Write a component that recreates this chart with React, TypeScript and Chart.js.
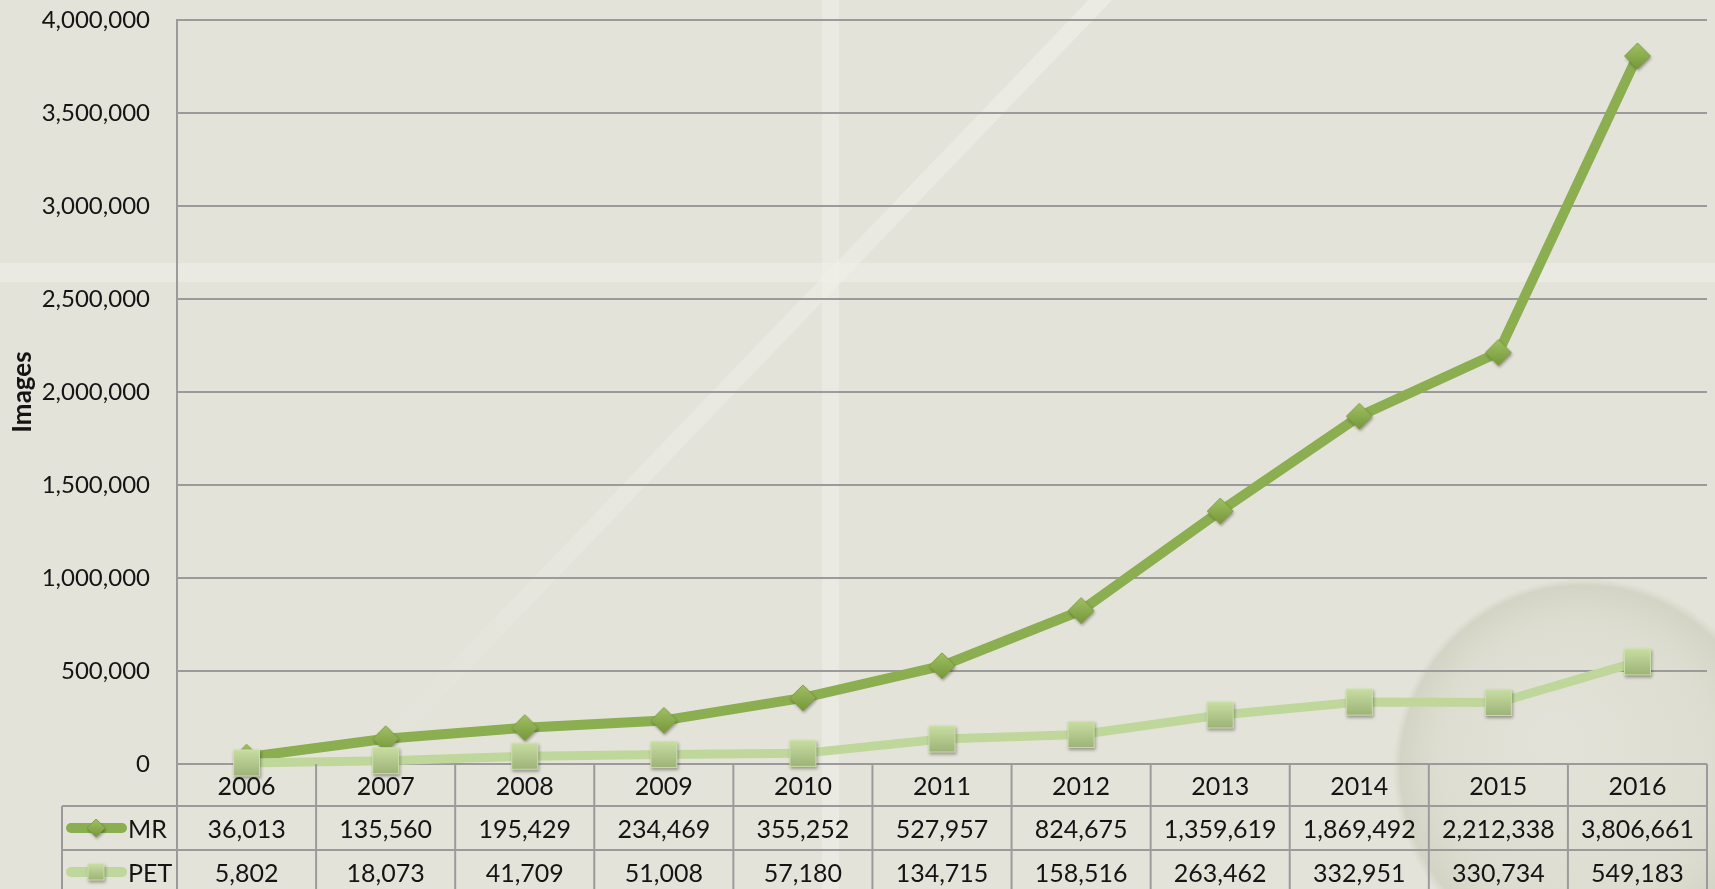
import React, { useEffect, useRef } from 'react';
import { Chart, registerables } from 'chart.js';

Chart.register(...registerables);

// ---------- data ----------
const years = ['2006', '2007', '2008', '2009', '2010', '2011', '2012', '2013', '2014', '2015', '2016'];
const mrImages = [36013, 135560, 195429, 234469, 355252, 527957, 824675, 1359619, 1869492, 2212338, 3806661];
const petImages = [5802, 18073, 41709, 51008, 57180, 134715, 158516, 263462, 332951, 330734, 549183];
const seriesNames = ['MR', 'PET'];
const yMin = 0;
const yMax = 4000000;
const yStep = 500000;
const axisTitle = 'Images';

// ---------- styles ----------
const FONT = 'Lato, "Open Sans", sans-serif';
const MR_COLOR = '#8aae50';
const PET_COLOR = '#c0d79c';
const GRID = '#9b9b9b';
const TEXT = '#141414';

const fmt = (v: number) => Number(v).toLocaleString('en-US');

function makeDiamond(r: number) {
  const pad = 6;
  const s = Math.ceil(2 * r + pad * 2);
  const c = document.createElement('canvas');
  c.width = s;
  c.height = s;
  const ctx = c.getContext('2d')!;
  const cx = s / 2;
  ctx.shadowColor = 'rgba(0,0,0,0.35)';
  ctx.shadowBlur = 3;
  ctx.shadowOffsetX = 1;
  ctx.shadowOffsetY = 2;
  const g = ctx.createLinearGradient(0, cx - r, 0, cx + r);
  g.addColorStop(0, '#9fc163');
  g.addColorStop(1, '#77973a');
  ctx.beginPath();
  ctx.moveTo(cx, cx - r);
  ctx.lineTo(cx + r, cx);
  ctx.lineTo(cx, cx + r);
  ctx.lineTo(cx - r, cx);
  ctx.closePath();
  ctx.fillStyle = g;
  ctx.fill();
  ctx.shadowColor = 'transparent';
  ctx.strokeStyle = 'rgba(125,155,65,0.9)';
  ctx.lineWidth = 1;
  ctx.stroke();
  return c;
}

function makeSquare(side: number) {
  const pad = 6;
  const s = Math.ceil(side + pad * 2);
  const c = document.createElement('canvas');
  c.width = s;
  c.height = s;
  const ctx = c.getContext('2d')!;
  const x0 = (s - side) / 2;
  ctx.shadowColor = 'rgba(0,0,0,0.35)';
  ctx.shadowBlur = 3;
  ctx.shadowOffsetX = 1;
  ctx.shadowOffsetY = 2;
  const g = ctx.createLinearGradient(0, x0, 0, x0 + side);
  g.addColorStop(0, '#c8dea2');
  g.addColorStop(1, '#9cb277');
  ctx.fillStyle = g;
  ctx.fillRect(x0, x0, side, side);
  ctx.shadowColor = 'transparent';
  ctx.strokeStyle = 'rgba(205,225,170,0.9)';
  ctx.lineWidth = 1;
  ctx.strokeRect(x0 + 0.5, x0 + 0.5, side - 1, side - 1);
  return c;
}

const backgroundPlugin = {
  id: 'bgPlugin',
  beforeDraw(chart: any) {
    const { ctx, width, height } = chart;
    ctx.save();
    ctx.fillStyle = '#e4e3da';
    ctx.fillRect(0, 0, width, height);

    // faint globe
    const gx = 1585, gy = 770, gr = 192;
    const rg = ctx.createRadialGradient(gx - 30, gy - 30, 10, gx, gy, gr);
    rg.addColorStop(0, 'rgba(220,221,205,0.14)');
    rg.addColorStop(0.7, 'rgba(195,198,175,0.22)');
    rg.addColorStop(0.95, 'rgba(175,178,150,0.30)');
    rg.addColorStop(1, 'rgba(175,178,150,0.0)');
    ctx.fillStyle = rg;
    ctx.beginPath();
    ctx.arc(gx, gy, gr, 0, Math.PI * 2);
    ctx.fill();

    // light bands
    ctx.fillStyle = 'rgba(240,239,232,0.6)';
    ctx.fillRect(822, 0, 17, height);
    ctx.fillRect(0, 263, width, 19);
    // diagonal band
    const lg = ctx.createLinearGradient(1100, 0, 370, 760);
    lg.addColorStop(0, 'rgba(240,239,232,0.65)');
    lg.addColorStop(0.6, 'rgba(240,239,232,0.45)');
    lg.addColorStop(1, 'rgba(240,239,232,0)');
    ctx.strokeStyle = lg;
    ctx.lineWidth = 17;
    ctx.beginPath();
    ctx.moveTo(1110, -10);
    ctx.lineTo(370, 760);
    ctx.stroke();
    ctx.restore();
  },
};

function makeTablePlugin(legendMarks: HTMLCanvasElement[]) {
  return {
    id: 'dataTable',
    afterDraw(chart: any) {
      const ctx = chart.ctx;
      const xs = chart.scales.x;
      const area = chart.chartArea;
      const H = chart.height;
      const top = area.bottom;
      const r1 = top + 42;
      const r2 = r1 + 44;
      const r3 = r2 + 44;
      const left = 62;
      const n = years.length;
      ctx.save();
      ctx.strokeStyle = GRID;
      ctx.lineWidth = 2;
      const line = (x1: number, y1: number, x2: number, y2: number) => {
        ctx.beginPath();
        ctx.moveTo(x1, y1);
        ctx.lineTo(x2, y2);
        ctx.stroke();
      };
      for (let i = 0; i <= n; i++) {
        const x = i === 0 ? area.left : i === n ? area.right : (xs.getPixelForValue(i - 1) + xs.getPixelForValue(i)) / 2;
        line(x, top, x, H);
      }
      line(left, r1, left, H);
      line(left, r1, area.right, r1);
      line(left, r2, area.right, r2);

      ctx.font = `25px ${FONT}`;
      ctx.fillStyle = TEXT;
      ctx.textAlign = 'center';
      ctx.textBaseline = 'middle';
      const rows = [mrImages, petImages];
      const rowY = [(r1 + r2) / 2 + 2, (r2 + r3) / 2 + 2];
      years.forEach((y, i) => ctx.fillText(y, xs.getPixelForValue(i), (top + r1) / 2 + 2));
      rows.forEach((vals, k) => {
        vals.forEach((v, i) => ctx.fillText(fmt(v), xs.getPixelForValue(i), rowY[k]));
      });

      // legend keys
      const colors = [MR_COLOR, PET_COLOR];
      seriesNames.forEach((name, k) => {
        const y = rowY[k] - 2;
        ctx.strokeStyle = colors[k];
        ctx.lineWidth = 10;
        ctx.lineCap = 'round';
        line(71, y, 122, y);
        const m = legendMarks[k];
        ctx.drawImage(m, 96 - m.width / 2, y - m.height / 2);
        ctx.textAlign = 'left';
        ctx.fillStyle = TEXT;
        ctx.fillText(name, 128, rowY[k]);
      });
      ctx.restore();
    },
  };
}

export default function App() {
  const ref = useRef<HTMLCanvasElement>(null);
  useEffect(() => {
    if (!ref.current) return;
    const diamond = makeDiamond(13);
    const square = makeSquare(27);
    const legendDiamond = makeDiamond(9);
    const legendSquare = makeSquare(17);
    const chart = new Chart(ref.current, {
      type: 'line',
      data: {
        labels: years,
        datasets: [
          {
            label: seriesNames[0],
            data: mrImages,
            borderColor: MR_COLOR,
            borderWidth: 10,
            pointStyle: diamond as any,
            pointRadius: 12,
            order: 1,
            clip: false as any,
            borderJoinStyle: 'round',
            tension: 0,
          },
          {
            label: seriesNames[1],
            data: petImages,
            borderColor: PET_COLOR,
            borderWidth: 9,
            pointStyle: square as any,
            pointRadius: 12,
            order: 0,
            clip: false as any,
            borderJoinStyle: 'round',
            tension: 0,
          },
        ],
      },
      options: {
        animation: false,
        responsive: false,
        devicePixelRatio: 1,
        layout: { autoPadding: false, padding: { top: 20, right: 8, bottom: 0, left: 0 } },
        plugins: { legend: { display: false }, tooltip: { enabled: false } },
        scales: {
          x: {
            type: 'category',
            offset: true,
            grid: { display: false },
            border: { display: false },
            ticks: { display: false },
            afterFit: (s: any) => {
              s.height = 125;
              s.paddingLeft = 0;
              s.paddingRight = 0;
            },
          },
          y: {
            min: yMin,
            max: yMax,
            ticks: {
              stepSize: yStep,
              callback: (v: any) => fmt(v),
              font: { family: FONT, size: 24 },
              color: TEXT,
              padding: 27,
            },
            grid: { color: GRID, lineWidth: 2, drawTicks: false },
            border: { color: GRID, width: 2 },
            title: {
              display: true,
              text: axisTitle,
              font: { family: FONT, size: 26, weight: 'bold' },
              color: TEXT,
              padding: { top: 7, bottom: 0 },
            },
            afterFit: (s: any) => {
              s.width = 177;
              s.paddingTop = 0;
              s.paddingBottom = 0;
            },
          },
        },
      } as any,
      plugins: [backgroundPlugin, makeTablePlugin([legendDiamond, legendSquare])],
    });
    return () => chart.destroy();
  }, []);
  return (
    <div style={{ position: 'fixed', left: 0, top: 0, width: 1715, height: 889 }}>
      <canvas ref={ref} width={1715} height={889} style={{ display: 'block', width: 1715, height: 889 }} />
    </div>
  );
}
